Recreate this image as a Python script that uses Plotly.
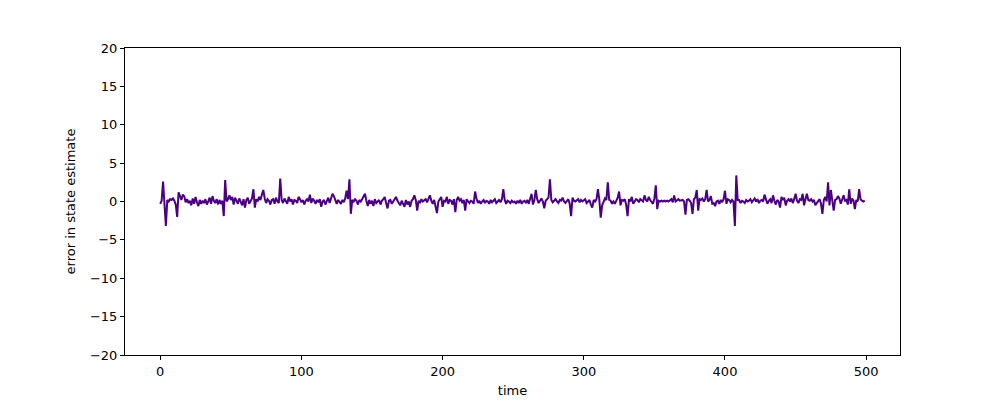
import plotly.graph_objects as go

time = list(range(500))

error = [
    -0.3, 0.1, 2.6, -0.6, -3.2, 0.2, 0.0, 0.3, 0.2, 0.4,
    0.1, -0.4, -2.0, 1.2, 0.6, 0.2, 0.9, 0.7, -0.1, 0.3,
    -0.2, 0.1, -0.5, 0.4, -0.3, 0.6, -0.1, -0.6, 0.2, -0.3,
    0.1, -0.2, 0.3, -0.4, 0.0, 0.5, -0.3, 0.7, 0.1, -0.2,
    0.3, -0.4, 0.2, -0.3, 0.1, -1.9, 2.8, 0.0, 0.3, 0.8,
    0.2, 0.6, -0.4, 0.5, 0.1, -0.3, 0.4, 0.0, -0.5, 0.3,
    -0.8, 0.2, 0.5, -0.3, 0.1, 0.4, 1.6, -0.8, 0.3, 0.0,
    0.6, 0.2, 0.9, 1.5, 0.4, -0.2, 0.3, 0.1, -0.4, 0.2,
    0.3, -0.3, 0.5, 0.0, -0.2, 3.0, 0.2, -0.2, 0.4, 0.1,
    -0.3, 0.6, 0.0, 0.3, -0.4, 0.2, 0.1, -0.2, 0.6, 0.3,
    -0.1, 0.2, -0.4, 0.1, 0.3, 0.0, 0.9, -0.2, 0.4, 0.1,
    -0.3, 0.2, -0.1, 0.3, -0.7, 0.0, 0.2, -0.4, 0.1, 0.5,
    -0.2, 0.3, 1.0, 0.7, 0.1, -0.3, 0.2, 0.0, -0.3, 0.2,
    -0.1, 0.4, 1.4, 0.3, 2.9, -1.6, 0.2, 0.0, 0.3, 0.1,
    -0.4, 0.2, 0.0, 0.3, 0.6, 1.0, 0.1, -0.6, 0.2, -0.3,
    0.1, -0.6, 0.3, -0.2, 0.0, 0.2, -0.4, 0.1, 0.3, 0.6,
    -0.2, -0.9, 0.1, 0.2, -0.3, 0.0, 0.4, 0.6, 0.1, -0.2,
    -0.5, 0.1, -0.3, -0.7, 0.2, -0.4, 0.0, -0.7, 0.1, 0.3,
    0.8, 0.2, -1.2, 0.1, -0.2, 0.3, 0.0, 0.2, 0.3, -0.1,
    0.4, 0.8, 0.1, -0.3, 0.2, -0.6, -1.5, 0.0, 0.3, 0.6,
    -0.7, 0.1, 0.0, 0.6, -0.3, 0.2, 0.1, -0.4, 0.3, -1.4,
    0.2, 0.6, 0.1, 0.3, -0.2, 0.2, -1.2, 0.3, 0.0, -0.2,
    0.1, 0.0, -0.3, 1.3, 0.4, -0.2, 0.1, -0.3, 0.0, 0.2,
    -0.2, 0.1, 0.0, -0.3, 0.2, -0.1, 0.1, 0.3, -0.2, 0.0,
    0.2, -0.1, 0.3, 1.6, 0.2, -0.3, 0.1, 0.0, -0.2, 0.1,
    -0.1, 0.0, -0.3, 0.1, -0.2, 0.2, -0.3, 0.0, 0.1, -0.2,
    0.2, -0.3, 0.3, 1.0, -0.4, 0.2, 1.5, 0.3, -0.2, 0.1,
    0.4, 0.0, -0.9, 0.1, 0.3, 0.5, 2.9, 0.2, -0.1, 0.1,
    0.3, 0.0, -0.2, 0.2, 0.1, 0.5, 0.0, -0.2, 0.1, 0.3,
    -0.3, -1.9, 0.5, 0.1, 0.0, 0.2, 0.3, -0.1, 0.2, 0.0,
    0.1, 0.3, -0.2, 0.0, 0.2, -0.4, -0.8, 0.2, 0.0, 0.3,
    1.6, 0.2, -2.1, -0.5, 0.1, 0.4, 0.2, 2.5, 0.2, 0.1,
    -0.3, 0.0, -0.3, 0.2, 0.5, 1.3, -0.5, 0.2, 0.1, 0.3,
    -0.4, -1.9, 0.3, 0.0, 0.6, -0.3, 0.1, 0.3, 0.2, -0.1,
    0.3, 0.1, 0.0, 0.8, 0.2, 0.0, 0.6, 0.2, -0.1, -0.3,
    0.4, 2.1, -1.0, 0.1, 0.0, 0.1, 0.0, 0.1, 0.0, 0.1,
    0.0, 0.1, 0.3, -0.1, 0.8, 0.0, 0.2, 0.3, 0.1, 0.2,
    0.2, 0.0, -1.7, 0.2, 0.3, 0.1, -0.2, -1.6, 0.3, 0.5,
    1.5, -1.2, 0.3, 0.2, 0.4, 0.0, 0.3, 1.5, 0.0, 0.2,
    0.7, -0.3, -0.2, -0.6, 0.0, 0.1, -0.3, 0.2, -0.1, 0.3,
    1.4, -0.3, 0.3, 0.2, -0.1, 0.2, 0.0, -3.2, 3.4, 0.2,
    0.2, -0.2, 0.1, 0.0, -0.2, 0.2, 0.0, 0.1, 0.3, -0.1,
    0.2, 0.4, 0.0, 0.3, -0.2, 0.1, 0.2, 0.0, 0.9, 0.2,
    -0.3, 0.1, 0.3, -0.2, 0.8, 0.1, -0.4, 0.2, 0.0, -0.8,
    0.6, 0.2, 0.5, -0.5, 0.1, 0.3, 0.0, 0.4, -0.2, 0.3,
    1.0, 0.1, -0.2, 0.3, 0.2, 1.0, -0.5, 0.3, 1.0, 0.2,
    0.1, 0.3, 0.0, 0.2, -0.5, -0.2, 0.1, 0.3, -0.3, -1.6,
    0.2, 0.6, 0.0, 2.5, -0.5, 1.5, 0.1, -1.2, 0.2, 0.3,
    0.7, 0.4, -0.3, 0.2, 0.8, 0.1, 0.2, -0.4, 1.6, -0.3,
    0.4, 0.1, -1.0, 0.2, 0.0, 1.6, 0.3, 0.1, 0.0, 0.1,
]

x_ticks = [0, 100, 200, 300, 400, 500]
y_ticks = [-20, -15, -10, -5, 0, 5, 10, 15, 20]

fig = go.Figure()
fig.add_trace(go.Scatter(
    x=time, y=error, mode="lines",
    line=dict(color="#4B0082", width=2),
    showlegend=False,
))

axis_common = dict(
    showgrid=False, zeroline=False, showline=True, mirror=True,
    linecolor="black", linewidth=1, ticks="outside", ticklen=4,
    tickwidth=1, tickcolor="black", automargin=False,
    tickfont=dict(family="DejaVu Sans", size=13, color="black"),
)

# The page body has an 8px margin, so the figure is 992x392 and the
# margins are reduced by 8px on the left/top to land on the reference frame.
fig.update_layout(
    width=992, height=392,
    margin=dict(l=117, r=100, t=40, b=45, pad=0),
    paper_bgcolor="white", plot_bgcolor="white",
    font=dict(family="DejaVu Sans", size=13, color="black"),
    xaxis=dict(range=[-24.95, 523.95], tickvals=x_ticks,
               title=dict(text="time", standoff=8,
                          font=dict(family="DejaVu Sans", size=13, color="black")),
               **axis_common),
    yaxis=dict(range=[-20, 20], tickvals=y_ticks,
               title=dict(text="error in state estimate", standoff=11,
                          font=dict(family="DejaVu Sans", size=13, color="black")),
               **axis_common),
)

fig.write_html("out.html")
